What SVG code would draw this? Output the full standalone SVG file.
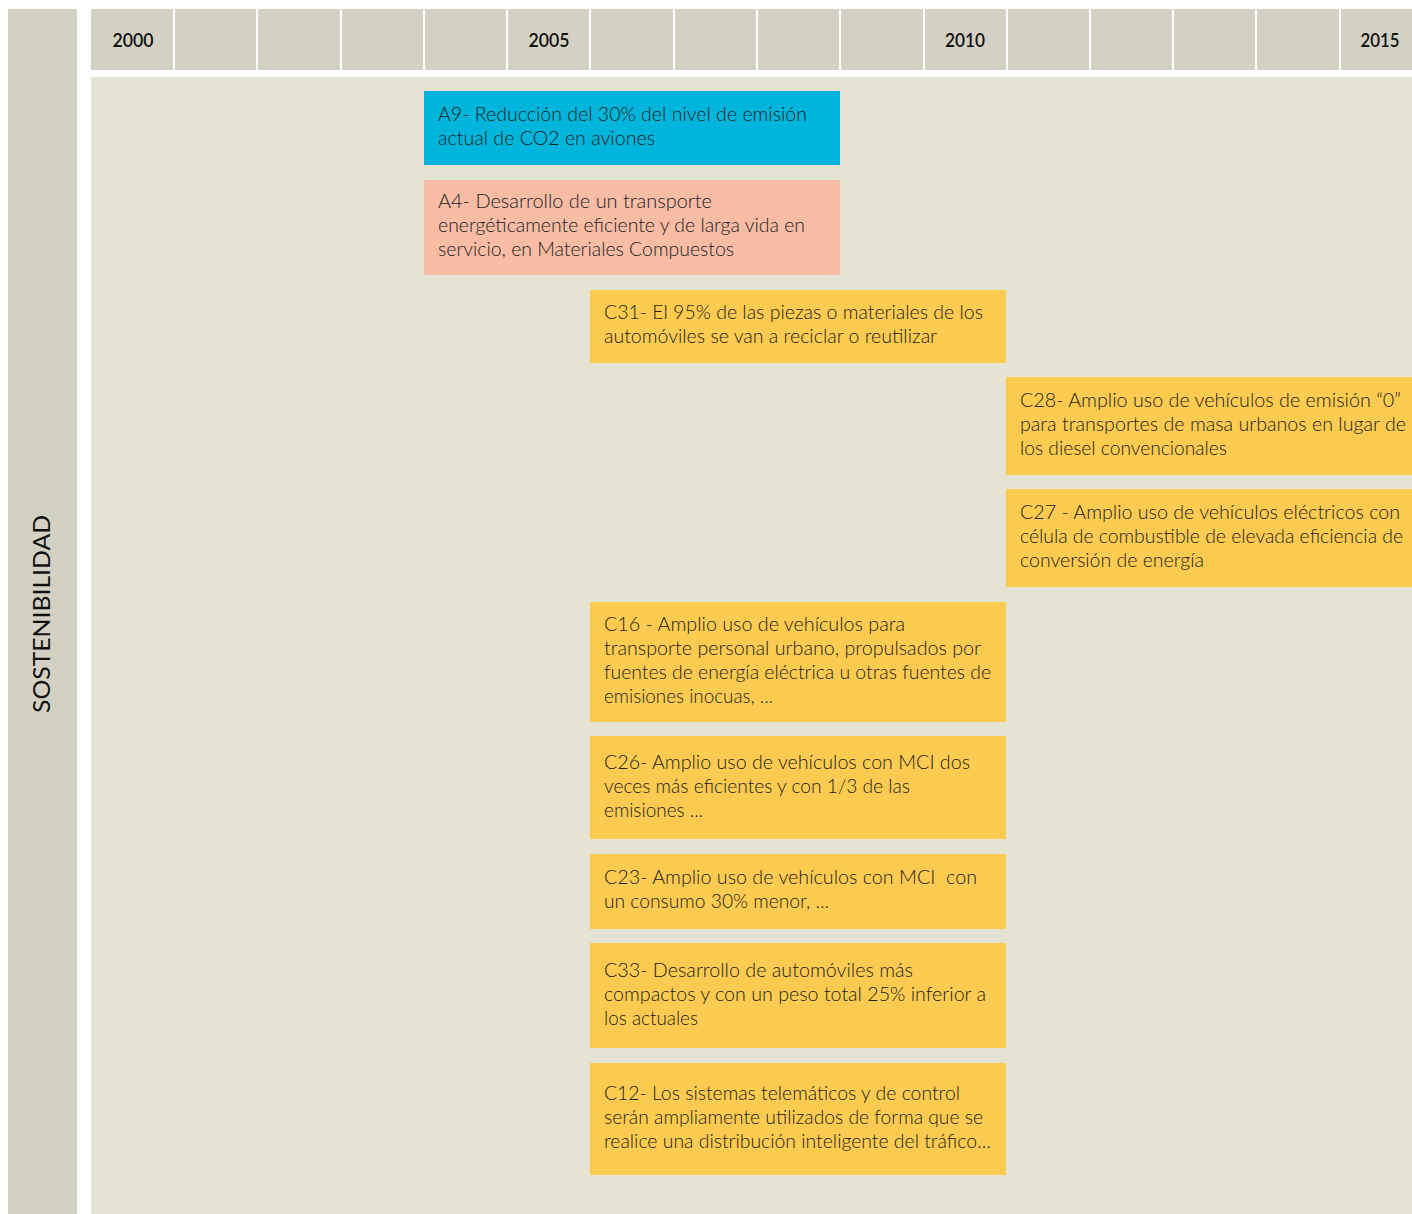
<svg xmlns="http://www.w3.org/2000/svg" width="1412" height="1214" viewBox="0 0 1412 1214">
  <style>
    .band { fill: #d3d1c2; }
    .body { fill: #e5e3d2; }
    .sep { fill: #ffffff; }
    .year { font-family: Lato, "Liberation Sans", sans-serif; font-size: 19px; font-weight: 600; fill: #111111; text-anchor: middle; }
    .side { font-family: Lato, "Liberation Sans", sans-serif; font-size: 24px; font-weight: 400; fill: #111111; text-anchor: middle; }
    .t { font-family: Lato, "Open Sans", "Liberation Sans", sans-serif; font-size: 19px; font-weight: 300; fill: #222222; }
    .cyan { fill: #00b5dc; }
    .salmon { fill: #f9bca5; }
    .yellow { fill: #fdcb50; }
  </style>

  <rect width="1412" height="1214" fill="#ffffff"/>

  <!-- side label column -->
  <g id="side-label">
    <rect class="band" x="8" y="9" width="69" height="1205"/>
    <text class="side" transform="translate(50 614) rotate(-90)" textLength="198" lengthAdjust="spacingAndGlyphs">SOSTENIBILIDAD</text>
  </g>

  <!-- year header -->
  <g id="year-header">
    <rect class="band" x="91" y="9" width="1321" height="61"/>
    <rect class="sep" x="173" y="9" width="2" height="61"/>
    <rect class="sep" x="256" y="9" width="2" height="61"/>
    <rect class="sep" x="340" y="9" width="2" height="61"/>
    <rect class="sep" x="423" y="9" width="2" height="61"/>
    <rect class="sep" x="506" y="9" width="2" height="61"/>
    <rect class="sep" x="589" y="9" width="2" height="61"/>
    <rect class="sep" x="673" y="9" width="2" height="61"/>
    <rect class="sep" x="756" y="9" width="2" height="61"/>
    <rect class="sep" x="839" y="9" width="2" height="61"/>
    <rect class="sep" x="923" y="9" width="2" height="61"/>
    <rect class="sep" x="1006" y="9" width="2" height="61"/>
    <rect class="sep" x="1089" y="9" width="2" height="61"/>
    <rect class="sep" x="1172" y="9" width="2" height="61"/>
    <rect class="sep" x="1255" y="9" width="2" height="61"/>
    <rect class="sep" x="1339" y="9" width="2" height="61"/>
    <text class="year" x="133" y="47" textLength="41" lengthAdjust="spacingAndGlyphs">2000</text>
    <text class="year" x="549" y="47" textLength="41" lengthAdjust="spacingAndGlyphs">2005</text>
    <text class="year" x="965" y="47" textLength="40" lengthAdjust="spacingAndGlyphs">2010</text>
    <text class="year" x="1380" y="47" textLength="39" lengthAdjust="spacingAndGlyphs">2015</text>
  </g>

  <!-- timeline body -->
  <rect class="body" x="91" y="77" width="1321" height="1137"/>

  <g id="connectors"/>

  <g id="A9">
    <rect class="cyan" x="424" y="91" width="416" height="74"/>
    <text class="t" x="438" y="121" textLength="369" lengthAdjust="spacingAndGlyphs">A9- Reducción del 30% del nivel de emisión</text>
    <text class="t" x="438" y="145" textLength="217" lengthAdjust="spacingAndGlyphs">actual de CO2 en aviones</text>
  </g>

  <g id="A4">
    <rect class="salmon" x="424" y="180" width="416" height="95"/>
    <text class="t" x="438" y="208" textLength="274" lengthAdjust="spacingAndGlyphs">A4- Desarrollo de un transporte</text>
    <text class="t" x="438" y="232" textLength="367" lengthAdjust="spacingAndGlyphs">energéticamente eficiente y de larga vida en</text>
    <text class="t" x="438" y="256" textLength="296" lengthAdjust="spacingAndGlyphs">servicio, en Materiales Compuestos</text>
  </g>

  <g id="C31">
    <rect class="yellow" x="590" y="290" width="416" height="73"/>
    <text class="t" x="604" y="319" textLength="379" lengthAdjust="spacingAndGlyphs">C31- El 95% de las piezas o materiales de los</text>
    <text class="t" x="604" y="343" textLength="333" lengthAdjust="spacingAndGlyphs">automóviles se van a reciclar o reutilizar</text>
  </g>

  <g id="C28">
    <rect class="yellow" x="1006" y="377" width="406" height="98"/>
    <text class="t" x="1020" y="407" textLength="381" lengthAdjust="spacingAndGlyphs">C28- Amplio uso de vehículos de emisión “0”</text>
    <text class="t" x="1020" y="431" textLength="386" lengthAdjust="spacingAndGlyphs">para transportes de masa urbanos en lugar de</text>
    <text class="t" x="1020" y="455" textLength="207" lengthAdjust="spacingAndGlyphs">los diesel convencionales</text>
  </g>

  <g id="C27">
    <rect class="yellow" x="1006" y="489" width="406" height="98"/>
    <text class="t" x="1020" y="519" textLength="380" lengthAdjust="spacingAndGlyphs">C27 - Amplio uso de vehículos eléctricos con</text>
    <text class="t" x="1020" y="543" textLength="383" lengthAdjust="spacingAndGlyphs">célula de combustible de elevada eficiencia de</text>
    <text class="t" x="1020" y="567" textLength="184" lengthAdjust="spacingAndGlyphs">conversión de energía</text>
  </g>

  <g id="C16">
    <rect class="yellow" x="590" y="602" width="416" height="120"/>
    <text class="t" x="604" y="631" textLength="301" lengthAdjust="spacingAndGlyphs">C16 - Amplio uso de vehículos para</text>
    <text class="t" x="604" y="655" textLength="377" lengthAdjust="spacingAndGlyphs">transporte personal urbano, propulsados por</text>
    <text class="t" x="604" y="679" textLength="387" lengthAdjust="spacingAndGlyphs">fuentes de energía eléctrica u otras fuentes de</text>
    <text class="t" x="604" y="703" textLength="169" lengthAdjust="spacingAndGlyphs">emisiones inocuas, ...</text>
  </g>

  <g id="C26">
    <rect class="yellow" x="590" y="736" width="416" height="103"/>
    <text class="t" x="604" y="769" textLength="366" lengthAdjust="spacingAndGlyphs">C26- Amplio uso de vehículos con MCI dos</text>
    <text class="t" x="604" y="793" textLength="306" lengthAdjust="spacingAndGlyphs">veces más eficientes y con 1/3 de las</text>
    <text class="t" x="604" y="817" textLength="99" lengthAdjust="spacingAndGlyphs">emisiones ...</text>
  </g>

  <g id="C23">
    <rect class="yellow" x="590" y="854" width="416" height="75"/>
    <text class="t" x="604" y="884" textLength="373" lengthAdjust="spacingAndGlyphs" xml:space="preserve">C23- Amplio uso de vehículos con MCI  con</text>
    <text class="t" x="604" y="908" textLength="225" lengthAdjust="spacingAndGlyphs">un consumo 30% menor, ...</text>
  </g>

  <g id="C33">
    <rect class="yellow" x="590" y="943" width="416" height="105"/>
    <text class="t" x="604" y="977" textLength="309" lengthAdjust="spacingAndGlyphs">C33- Desarrollo de automóviles más</text>
    <text class="t" x="604" y="1001" textLength="382" lengthAdjust="spacingAndGlyphs">compactos y con un peso total 25% inferior a</text>
    <text class="t" x="604" y="1025" textLength="94" lengthAdjust="spacingAndGlyphs">los actuales</text>
  </g>

  <g id="C12">
    <rect class="yellow" x="590" y="1063" width="416" height="112"/>
    <text class="t" x="604" y="1100" textLength="356" lengthAdjust="spacingAndGlyphs">C12- Los sistemas telemáticos y de control</text>
    <text class="t" x="604" y="1124" textLength="379" lengthAdjust="spacingAndGlyphs">serán ampliamente utilizados de forma que se</text>
    <text class="t" x="604" y="1148" textLength="387" lengthAdjust="spacingAndGlyphs">realice una distribución inteligente del tráfico…</text>
  </g>
</svg>
